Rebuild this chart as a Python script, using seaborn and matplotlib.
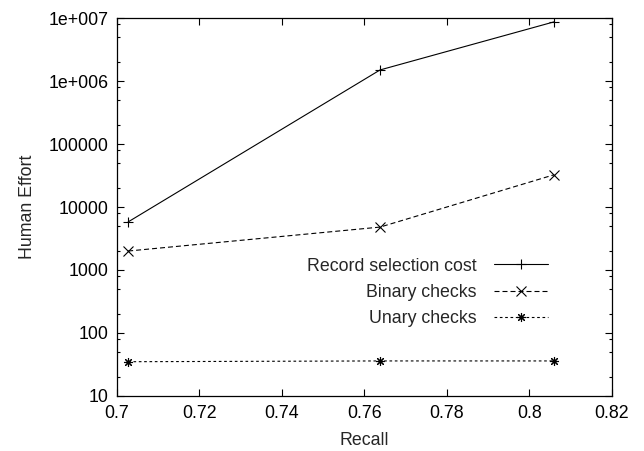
import pandas as pd
import seaborn as sns
import numpy as np
import matplotlib.pyplot as plt
from matplotlib.ticker import LogLocator, FixedLocator, FixedFormatter, NullFormatter


# DATA
recall = [0.7027, 0.7638, 0.806]
record_cost = [5800, 1.5e6, 8.7e6]
binary_checks = [2000, 4800, 32500]
unary_checks = [35, 36, 36]

series_names = ['Record selection cost', 'Binary checks', 'Unary checks']
y_ticks = [10, 100, 1000, 10000, 100000, 1e6, 1e7]
y_tick_labels = ['10', '100', '1000', '10000', '100000', '1e+006', '1e+007']
x_ticks = [0.7, 0.72, 0.74, 0.76, 0.78, 0.8, 0.82]
x_tick_labels = ['0.7', '0.72', '0.74', '0.76', '0.78', '0.8', '0.82']

df = pd.DataFrame({
    'recall': recall * 3,
    'effort': record_cost + binary_checks + unary_checks,
    'series': [s for s in series_names for _ in recall],
})

sns.set_style('ticks')
plt.rcParams['font.family'] = ['Liberation Sans', 'DejaVu Sans']
fs = 12.8

fig = plt.figure(figsize=(6.44, 4.51), dpi=100)
ax = fig.add_axes([0.1817, 0.122, 0.7683, 0.838])

# estilos de cada serie (gnuplot)
styles = {
    'Record selection cost': dict(marker='+', linestyle='-'),
    'Binary checks': dict(marker='x', linestyle=(0, (4.5, 2.7))),
    'Unary checks': dict(marker=(8, 2, 0), linestyle=(0, (2.4, 2.4))),
}

for name in series_names:
    sub = df[df['series'] == name]
    sns.lineplot(data=sub, x='recall', y='effort', ax=ax, color='black',
                 linewidth=0.8, markersize=6.5, markeredgewidth=0.8,
                 markeredgecolor='black', label=name, **styles[name])

ax.set_yscale('log')
ax.set_xlim(0.7, 0.82)
ax.set_ylim(10, 1e7)

ax.xaxis.set_major_locator(FixedLocator(x_ticks))
ax.xaxis.set_major_formatter(FixedFormatter(x_tick_labels))
ax.yaxis.set_major_locator(FixedLocator(y_ticks))
ax.yaxis.set_major_formatter(FixedFormatter(y_tick_labels))
ax.yaxis.set_minor_locator(LogLocator(base=10, subs=[2, 5, 8]))
ax.yaxis.set_minor_formatter(NullFormatter())

ax.tick_params(which='both', direction='in', top=True, right=True,
               colors='black', labelsize=fs)
ax.tick_params(which='major', length=5, width=0.8)
ax.tick_params(which='minor', length=2.5, width=0.8)
ax.tick_params(axis='y', pad=6)
ax.tick_params(axis='x', pad=6.5)

for sp in ax.spines.values():
    sp.set_color('black')
    sp.set_linewidth(0.9)

ax.set_xlabel('Recall', fontsize=fs, labelpad=7)
ax.set_ylabel('Human Effort', fontsize=fs, labelpad=9)

leg = ax.legend(loc='upper right', bbox_to_anchor=(0.885, 0.385),
                frameon=False, markerfirst=False, handlelength=3.0,
                handletextpad=1.0, labelspacing=0.52, fontsize=fs,
                borderaxespad=0)

fig.savefig('out.png', dpi=100)
